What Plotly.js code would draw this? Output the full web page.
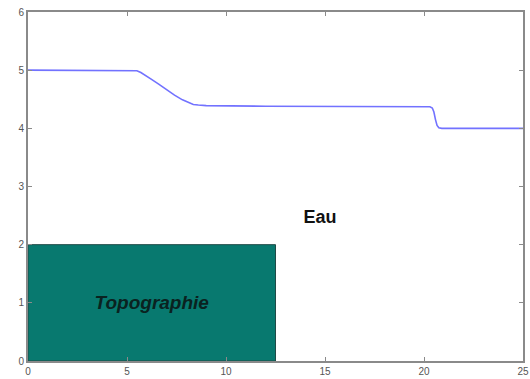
<!DOCTYPE html>
<html>
<head>
<meta charset="utf-8">
<script src="https://cdn.plot.ly/plotly-3.0.1.min.js"></script>
<style>html,body{margin:0;padding:0;background:#fff;}#chart{width:530px;height:379px;}</style>
</head>
<body>
<div id="chart"></div>
<script>
// Water surface
const waterX = [0, 5.3, 5.5, 5.7, 5.9, 6.2, 6.6, 7.0, 7.4, 7.8, 8.1, 8.35, 8.6, 9.0, 12, 16, 20.3, 20.42, 20.5, 20.58, 20.66, 20.75, 20.9, 25];
const waterY = [5.0, 5.0, 4.99, 4.96, 4.92, 4.85, 4.76, 4.66, 4.57, 4.49, 4.44, 4.41, 4.40, 4.39, 4.38, 4.37, 4.37, 4.35, 4.28, 4.15, 4.05, 4.01, 4.0, 4.0];
// Topography block
const topoX = [0, 12.5, 12.5, 0, 0];
const topoY = [0, 0, 2, 2, 0];
// Labels
const labelText = ["Topographie", "Eau"];
const labelX = [6.25, 14.75];
const labelY = [0.98, 2.45];
const xTicks = [0, 5, 10, 15, 20, 25];
const yTicks = [0, 1, 2, 3, 4, 5, 6];

const traces = [
  {x: topoX, y: topoY, type: 'scatter', mode: 'lines', fill: 'toself',
   fillcolor: '#08796f', line: {color: '#1f4a46', width: 1}, hoverinfo: 'skip'},
  {x: waterX, y: waterY, type: 'scatter', mode: 'lines', line: {color: '#7272ff', width: 1.6}},
  {x: labelX.slice(0,1), y: labelY.slice(0,1), type: 'scatter', mode: 'text', text: labelText.slice(0,1),
   textfont: {family: 'Liberation Sans, Arial', size: 19, color: '#0a2220', style: 'italic'}},
  {x: labelX.slice(1), y: labelY.slice(1), type: 'scatter', mode: 'text', text: labelText.slice(1),
   textfont: {family: 'Liberation Sans, Arial', size: 18, color: '#111'}}
];
traces[2].text = ['<i><b>' + labelText[0] + '</b></i>'];
traces[3].text = ['<b>' + labelText[1] + '</b>'];

const axisCommon = {showgrid: false, zeroline: false, showline: true, linecolor: '#8a8a8a', linewidth: 2,
  mirror: 'ticks', ticks: 'inside', ticklen: 4, tickcolor: '#8a8a8a', tickwidth: 1,
  tickfont: {family: 'Liberation Sans, Arial', size: 10, color: '#555'}};

const layout = {
  width: 530, height: 379,
  margin: {l: 28, r: 7, t: 12, b: 18},
  paper_bgcolor: '#fff', plot_bgcolor: '#fff',
  showlegend: false,
  xaxis: Object.assign({}, axisCommon, {range: [0, 25], tickvals: xTicks, ticktext: xTicks.map(String)}),
  yaxis: Object.assign({}, axisCommon, {range: [0, 6], tickvals: yTicks, ticktext: yTicks.map(String)})
};
Plotly.newPlot('chart', traces, layout, {staticPlot: true});
</script>
</body>
</html>
